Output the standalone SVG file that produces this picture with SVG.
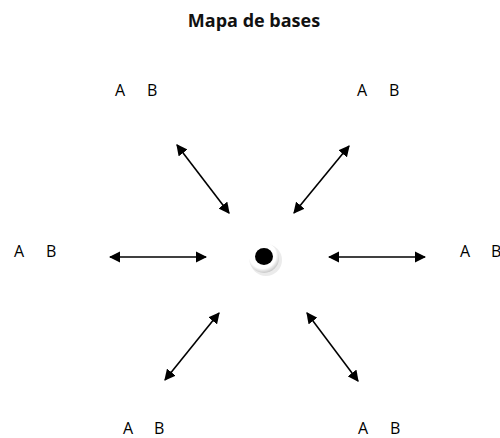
<svg xmlns="http://www.w3.org/2000/svg" width="500" height="438" viewBox="0 0 500 438">
<defs>
<style>
.t{font-family:"Open Sans","Liberation Sans",sans-serif;font-size:16px;fill:#000}
.title{font-family:"Open Sans","Liberation Sans",sans-serif;font-size:18px;font-weight:bold;fill:#111}
.c{stroke:#000;stroke-width:1.6;fill:none;marker-start:url(#ah);marker-end:url(#ah)}
</style>
<marker id="ah" viewBox="0 0 10 10" refX="9" refY="5" markerWidth="7" markerHeight="7" orient="auto-start-reverse" markerUnits="strokeWidth">
<path d="M0,0 L10,5 L0,10 z" fill="#000"/>
</marker>
<radialGradient id="sh" cx="0.45" cy="0.4" r="0.6">
<stop offset="0.75" stop-color="#fff"/>
<stop offset="1" stop-color="#c8c8c8"/>
</radialGradient>
</defs>
<rect width="500" height="438" fill="#fff"/>
<text class="title" x="254" y="27" text-anchor="middle">Mapa de bases</text>
<g id="n-top-left"><text class="t" x="115" y="96">A</text><text class="t" x="147" y="96">B</text></g>
<g id="n-top-right"><text class="t" x="357" y="96">A</text><text class="t" x="389" y="96">B</text></g>
<g id="n-left"><text class="t" x="14" y="257">A</text><text class="t" x="46" y="257">B</text></g>
<g id="n-right"><text class="t" x="460" y="257">A</text><text class="t" x="491" y="257">B</text></g>
<g id="n-bottom-left"><text class="t" x="123" y="434">A</text><text class="t" x="154" y="434">B</text></g>
<g id="n-bottom-right"><text class="t" x="358" y="434">A</text><text class="t" x="390" y="434">B</text></g>
<g id="n-center">
<circle cx="266" cy="260" r="16" fill="#d8d8d8" opacity="0.5"/>
<circle cx="264" cy="258" r="15" fill="url(#sh)"/>
<ellipse cx="264" cy="256.5" rx="9" ry="8.5" fill="#000"/>
</g>
<g id="connectors">
<line class="c" x1="177" y1="145" x2="229" y2="213"/>
<line class="c" x1="349" y1="146" x2="294" y2="213"/>
<line class="c" x1="110" y1="257" x2="206" y2="257"/>
<line class="c" x1="329" y1="257" x2="425" y2="257"/>
<line class="c" x1="219" y1="313" x2="165" y2="380"/>
<line class="c" x1="307" y1="313" x2="358" y2="381"/>
</g>
</svg>
